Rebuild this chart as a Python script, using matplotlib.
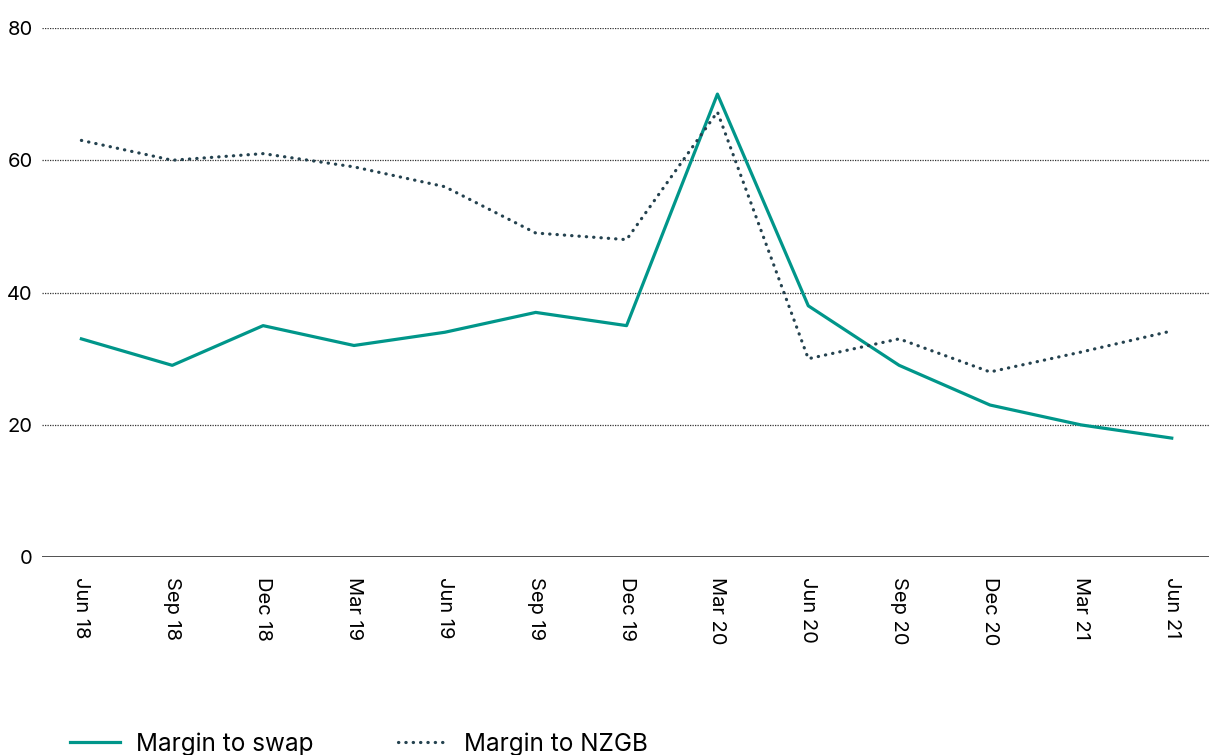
import matplotlib
matplotlib.use("Agg")
import matplotlib.pyplot as plt

quarters = ["Jun 18", "Sep 18", "Dec 18", "Mar 19", "Jun 19", "Sep 19", "Dec 19",
            "Mar 20", "Jun 20", "Sep 20", "Dec 20", "Mar 21", "Jun 21"]
margin_swap = [33, 29, 35, 32, 34, 37, 35, 70, 38, 29, 23, 20, 18]
margin_nzgb = [63, 60, 61, 59, 56, 49, 48, 67.3, 30, 33, 28, 31, 34.2]

plt.rcParams['font.family'] = ['Inter', 'DejaVu Sans']

fig = plt.figure(figsize=(12.09, 7.55), dpi=100)
ax = fig.add_axes([0.035, 0.262, 0.965, 0.701])

x = list(range(len(quarters)))
ax.plot(x, margin_swap, color="#00968A", lw=2.3, label="Margin to swap", zorder=3)
ax.plot(x, margin_nzgb, color="#24424F", lw=2.3, linestyle=(0, (0.1, 2.2)),
        dash_capstyle="round", label="Margin to NZGB", zorder=3)

ax.set_ylim(0, 80)
ax.set_xlim(-0.43, 12.41)
ax.set_yticks([0, 20, 40, 60, 80])
ax.set_xticks(x)
ax.set_xticklabels(quarters, rotation=270, fontsize=14.5)
ax.tick_params(axis="y", length=0, labelsize=14.5, pad=7)
ax.tick_params(axis="x", length=0, pad=14)

for y in [20, 40, 60, 80]:
    ax.axhline(y, color="#333333", lw=0.9, linestyle=(0, (1, 1)), zorder=1)
ax.axhline(0, color="#333333", lw=1.2, zorder=2)

for s in ax.spines.values():
    s.set_visible(False)

fig.legend(loc="lower left", bbox_to_anchor=(0.040, -0.030), ncol=2, frameon=False,
           fontsize=17.5, handlelength=2.05, handletextpad=0.65, columnspacing=3.5)

fig.savefig("out.png", dpi=100)
